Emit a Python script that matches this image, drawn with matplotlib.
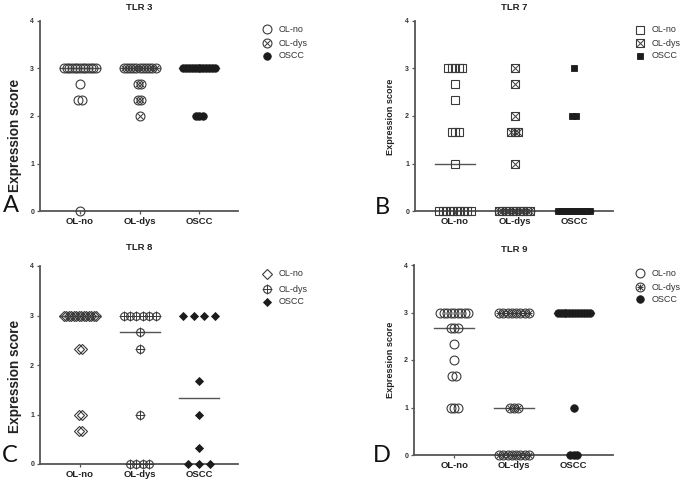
import numpy as np
import matplotlib
matplotlib.use("Agg")
import matplotlib.pyplot as plt

plt.rcParams["font.family"] = ["Liberation Sans", "DejaVu Sans"]

groups = ["OL-no", "OL-dys", "OSCC"]
panel_titles = ["TLR 3", "TLR 7", "TLR 8", "TLR 9"]
panel_letters = ["A", "B", "C", "D"]
ytick_values = [0, 1, 2, 3, 4]

# ---- data (expression scores per sample) ----
tlr3_ol_no = [3, 3, 3, 3, 3, 3, 3, 3, 3, 3, 3, 3, 3, 2.67, 2.33, 2.33, 0]
tlr3_ol_dys = [3, 3, 3, 3, 3, 3, 3, 3, 3, 3, 3, 2.67, 2.67, 2.33, 2.33, 2]
tlr3_oscc = [3, 3, 3, 3, 3, 3, 3, 3, 3, 3, 3, 3, 2, 2, 2]

tlr7_ol_no = [3, 3, 3, 3, 3, 2.67, 2.33, 1.67, 1.67, 1.67, 1,
              0, 0, 0, 0, 0, 0, 0, 0, 0, 0]
tlr7_ol_dys = [3, 2.67, 2, 1.67, 1.67, 1.67, 1,
               0, 0, 0, 0, 0, 0, 0, 0, 0, 0]
tlr7_oscc = [3, 2, 2, 0, 0, 0, 0, 0, 0, 0, 0, 0, 0, 0, 0]

tlr8_ol_no = [3, 3, 3, 3, 3, 3, 3, 3, 3, 3, 3, 3, 3, 3,
              2.33, 2.33, 1, 1, 0.67, 0.67]
tlr8_ol_dys = [3, 3, 3, 3, 3, 3, 2.67, 2.33, 1, 0, 0, 0, 0]
tlr8_oscc = [3, 3, 3, 3, 1.67, 1, 0.33, 0, 0, 0]

tlr9_ol_no = [3, 3, 3, 3, 3, 3, 3, 3, 3, 2.67, 2.67, 2.67, 2.33, 2,
              1.67, 1.67, 1, 1, 1]
tlr9_ol_dys = [3, 3, 3, 3, 3, 3, 3, 3, 1, 1, 1, 0, 0, 0, 0, 0, 0, 0, 0]
tlr9_oscc = [3, 3, 3, 3, 3, 3, 3, 3, 3, 3, 3, 3, 1, 0, 0, 0]

panel_data = [
    [tlr3_ol_no, tlr3_ol_dys, tlr3_oscc],
    [tlr7_ol_no, tlr7_ol_dys, tlr7_oscc],
    [tlr8_ol_no, tlr8_ol_dys, tlr8_oscc],
    [tlr9_ol_no, tlr9_ol_dys, tlr9_oscc],
]

# ---- styles ----
EDGE = "#3a3a3a"
FILL = "#1c1c1c"
SPINE = "#555555"
W, H = 686, 488
PX_PER_UNIT = 59.5

marker_styles = [
    dict(base="o", ms=6.4, ms_fill=5.4, dys_base="o", dys_ms=6.4, dys_over=[("x", 4.0)]),
    dict(base="s", ms=5.6, ms_fill=5.0, dys_base="s", dys_ms=5.6, dys_over=[("x", 5.6)]),
    dict(base="D", ms=4.6, ms_fill=4.0, dys_base="o", dys_ms=5.6, dys_over=[("+", 6.6)]),
    dict(base="o", ms=6.4, ms_fill=5.4, dys_base="o", dys_ms=6.4, dys_over=[("+", 4.6), ("x", 4.0)]),
]
spread_steps = [
    [3.5, 3.5, 3.5],
    [3.5, 3.5, 3.5],
    [3.0, 6.4, 11.0],
    [3.5, 4.3, 3.5],
]

axes_px = [
    (40, 211, 198, 190),
    (415, 211, 198, 190),
    (40, 464, 198, 198),
    (414, 455, 199, 190),
]
title_px = [(139, 8), (514, 8), (139, 248), (514, 250)]
letter_px = [(11, 206), (382, 207), (10, 456), (382, 455)]
ylabel_px = [(15.5, 135, 9.8), (390.5, 117, 6.6), (15.5, 376, 9.8), (390.5, 360, 6.6)]
legend_px = [(267, [29, 43, 56]), (640, [30, 43, 56]),
             (267, [274, 289, 302]), (640, [273, 287, 299])]


def spread(values, step_px, max_span=32.0):
    values = np.asarray(values, dtype=float)
    offs = np.zeros(len(values))
    for v in np.unique(values):
        idx = np.where(values == v)[0]
        n = len(idx)
        if n > 1:
            step = min(step_px, max_span / (n - 1))
            offs[idx] = (np.arange(n) - (n - 1) / 2) * step
    return offs / PX_PER_UNIT


def draw_markers(ax, x, y, style, gi, **kw):
    if gi == 0:
        ax.plot(x, y, ls="none", marker=style["base"], ms=style["ms"], mfc="none",
                mec=EDGE, mew=0.8, **kw)
    elif gi == 1:
        ax.plot(x, y, ls="none", marker=style["dys_base"], ms=style["dys_ms"], mfc="none",
                mec=EDGE, mew=0.8, **kw)
        for m, s in style["dys_over"]:
            ax.plot(x, y, ls="none", marker=m, ms=s, mfc="none", mec=EDGE, mew=0.7, **kw)
    else:
        ax.plot(x, y, ls="none", marker=style["base"], ms=style["ms_fill"], mfc=FILL,
                mec=FILL, mew=0.6, **kw)


fig = plt.figure(figsize=(W / 100, H / 100), dpi=100)
over = fig.add_axes([0, 0, 1, 1], zorder=10)
over.set_xlim(0, W)
over.set_ylim(H, 0)
over.axis("off")
over.patch.set_alpha(0)

for p in range(4):
    lx, y0, wpx, hpx = axes_px[p]
    ax = fig.add_axes([lx / W, 1 - y0 / H, wpx / W, hpx / H])
    style = marker_styles[p]
    for gi, vals in enumerate(panel_data[p]):
        vals = np.asarray(vals, dtype=float)
        xs = gi + spread(vals, spread_steps[p][gi])
        med = np.median(vals)
        ax.plot([gi - 20 / PX_PER_UNIT, gi + 20 / PX_PER_UNIT], [med, med],
                color="#555555", lw=1.0, zorder=2, clip_on=False)
        draw_markers(ax, xs, vals, style, gi, zorder=3, clip_on=False)
    ax.set_xlim(-40 / PX_PER_UNIT, 2 + 39 / PX_PER_UNIT)
    ax.set_ylim(0, 4)
    ax.set_yticks(ytick_values)
    ax.set_yticklabels([str(v) for v in ytick_values], fontsize=5, fontweight="bold",
                       color="#333333")
    ax.set_xticks(range(len(groups)))
    ax.set_xticklabels(groups, fontsize=6.8, fontweight="bold", color="#222222")
    for s in ["top", "right"]:
        ax.spines[s].set_visible(False)
    for s in ["left", "bottom"]:
        ax.spines[s].set_color(SPINE)
        ax.spines[s].set_linewidth(1.3)
    ax.tick_params(axis="both", direction="out", length=2.2, width=0.9, color=SPINE, pad=2)
    ax.patch.set_alpha(0)

    tx, ty = title_px[p]
    over.text(tx, ty, panel_titles[p], ha="center", va="center", fontsize=6.8,
              fontweight="bold", color="#222222")
    lx2, ly2 = letter_px[p]
    over.text(lx2, ly2, panel_letters[p], ha="center", va="center", fontsize=17,
              family=["Lato", "Liberation Sans"], color="#111111")
    yx, yy, yfs = ylabel_px[p]
    over.text(yx, yy, "Expression score", ha="center", va="center", rotation=90,
              fontsize=yfs, fontweight="bold", color="#222222")

    mx, mys = legend_px[p]
    for gi, g in enumerate(groups):
        draw_markers(over, [mx], [mys[gi]], style, gi, zorder=3)
        over.text(mx + 12, mys[gi], g, ha="left", va="center", fontsize=6.5, color="#333333")

fig.savefig("out.png", dpi=100)
